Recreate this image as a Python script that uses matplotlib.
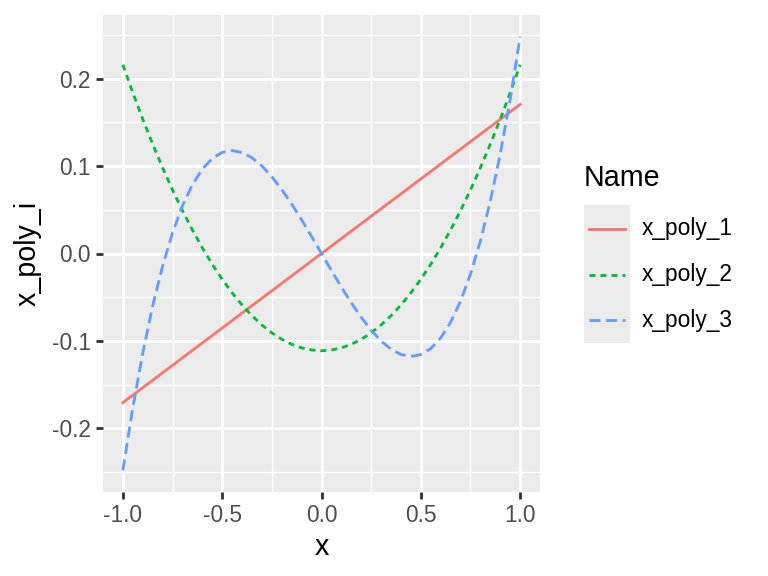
import matplotlib
matplotlib.use("Agg")
import matplotlib.pyplot as plt
from matplotlib.lines import Line2D
from matplotlib.patches import Rectangle

x = [-1.0, -0.95, -0.9, -0.85, -0.8, -0.75, -0.7, -0.65, -0.6, -0.55, -0.5,
     -0.45, -0.4, -0.35, -0.3, -0.25, -0.2, -0.15, -0.1, -0.05, 0.0,
     0.05, 0.1, 0.15, 0.2, 0.25, 0.3, 0.35, 0.4, 0.45, 0.5,
     0.55, 0.6, 0.65, 0.7, 0.75, 0.8, 0.85, 0.9, 0.95, 1.0]

x_poly_1 = [-0.1706, -0.1621, -0.1535, -0.1450, -0.1365, -0.1280, -0.1194, -0.1109, -0.1024, -0.0938, -0.0853,
            -0.0768, -0.0682, -0.0597, -0.0512, -0.0427, -0.0341, -0.0256, -0.0171, -0.0085, 0.0,
            0.0085, 0.0171, 0.0256, 0.0341, 0.0427, 0.0512, 0.0597, 0.0682, 0.0768, 0.0853,
            0.0938, 0.1024, 0.1109, 0.1194, 0.1280, 0.1365, 0.1450, 0.1535, 0.1621, 0.1706]

x_poly_2 = [0.2160, 0.1841, 0.1538, 0.1252, 0.0982, 0.0728, 0.0491, 0.0270, 0.0065, -0.0123, -0.0295,
            -0.0450, -0.0589, -0.0712, -0.0818, -0.0908, -0.0982, -0.1039, -0.1080, -0.1104, -0.1113,
            -0.1104, -0.1080, -0.1039, -0.0982, -0.0908, -0.0818, -0.0712, -0.0589, -0.0450, -0.0295,
            -0.0123, 0.0065, 0.0270, 0.0491, 0.0728, 0.0982, 0.1252, 0.1538, 0.1841, 0.2160]

x_poly_3 = [-0.2481, -0.1765, -0.1140, -0.0601, -0.0144, 0.0237, 0.0545, 0.0787, 0.0966, 0.1088, 0.1157,
            0.1178, 0.1155, 0.1095, 0.1001, 0.0878, 0.0731, 0.0565, 0.0385, 0.0195, 0.0,
            -0.0195, -0.0385, -0.0565, -0.0731, -0.0878, -0.1001, -0.1095, -0.1155, -0.1178, -0.1157,
            -0.1088, -0.0966, -0.0787, -0.0545, -0.0237, 0.0144, 0.0601, 0.1140, 0.1765, 0.2481]

names = ["x_poly_1", "x_poly_2", "x_poly_3"]
legend_title = "Name"
x_ticks = [-1.0, -0.5, 0.0, 0.5, 1.0]
x_tick_labels = ["-1.0", "-0.5", "0.0", "0.5", "1.0"]
y_ticks = [-0.2, -0.1, 0.0, 0.1, 0.2]
y_tick_labels = ["-0.2", "-0.1", "0.0", "0.1", "0.2"]

plt.rcParams['font.family'] = ['Liberation Sans', 'DejaVu Sans']
plt.rcParams['lines.scale_dashes'] = False

W, H = 768, 576
fig = plt.figure(figsize=(W / 144, H / 144), dpi=144)
ax = fig.add_axes([103 / W, 1 - 492 / H, (540 - 103) / W, (492 - 15) / H])

bg = "#EBEBEB"
ax.set_facecolor(bg)
for s in ax.spines.values():
    s.set_visible(False)

lw = 1.4
colors = ["#F8766D", "#00BA38", "#619CFF"]
styles = ["-", (0, (3.0, 2.5)), (0, (5.5, 2.8))]
series = [x_poly_1, x_poly_2, x_poly_3]
for ys, c, ls, n in zip(series, colors, styles, names):
    ax.plot(x, ys, color=c, linestyle=ls, linewidth=lw, label=n, zorder=3)

ax.set_xlim(-1.1, 1.1)
ax.set_ylim(-0.2729, 0.2729)
ax.set_xticks(x_ticks)
ax.set_xticklabels(x_tick_labels)
ax.set_yticks(y_ticks)
ax.set_yticklabels(y_tick_labels)
ax.set_xticks([-0.75, -0.25, 0.25, 0.75], minor=True)
ax.set_yticks([-0.25, -0.15, -0.05, 0.05, 0.15, 0.25], minor=True)

ax.grid(which="major", color="white", linewidth=1.4, zorder=0)
ax.grid(which="minor", color="white", linewidth=0.7, zorder=0)
ax.set_axisbelow(True)

ax.tick_params(which="major", length=3.6, width=1.4, color="#333333",
               labelsize=11.4, labelcolor="#4D4D4D", pad=2.5)
ax.tick_params(which="minor", length=0)

ax.set_xlabel("x", fontsize=14.3, color="black", labelpad=3)
ax.set_ylabel("x_poly_i", fontsize=14.3, color="black", labelpad=5)

# legend drawn manually in figure pixel coordinates
def fx(px):
    return px / W

def fy(py):
    return 1 - py / H

fig.patches.append(Rectangle((fx(584), fy(343)), 46 / W, 138 / H,
                             transform=fig.transFigure, facecolor=bg,
                             edgecolor="none"))
fig.text(fx(584), fy(178), legend_title, fontsize=14.3, color="black",
         ha="left", va="center")
key_y = [229, 275, 320]
for c, ls, n, ky in zip(colors, styles, names, key_y):
    fig.add_artist(Line2D([fx(589), fx(625)], [fy(ky), fy(ky)], color=c,
                          linestyle=ls, linewidth=lw, transform=fig.transFigure))
    fig.text(fx(642), fy(ky), n, fontsize=11.4, color="black",
             ha="left", va="center")

fig.savefig("out.png", dpi=144)
